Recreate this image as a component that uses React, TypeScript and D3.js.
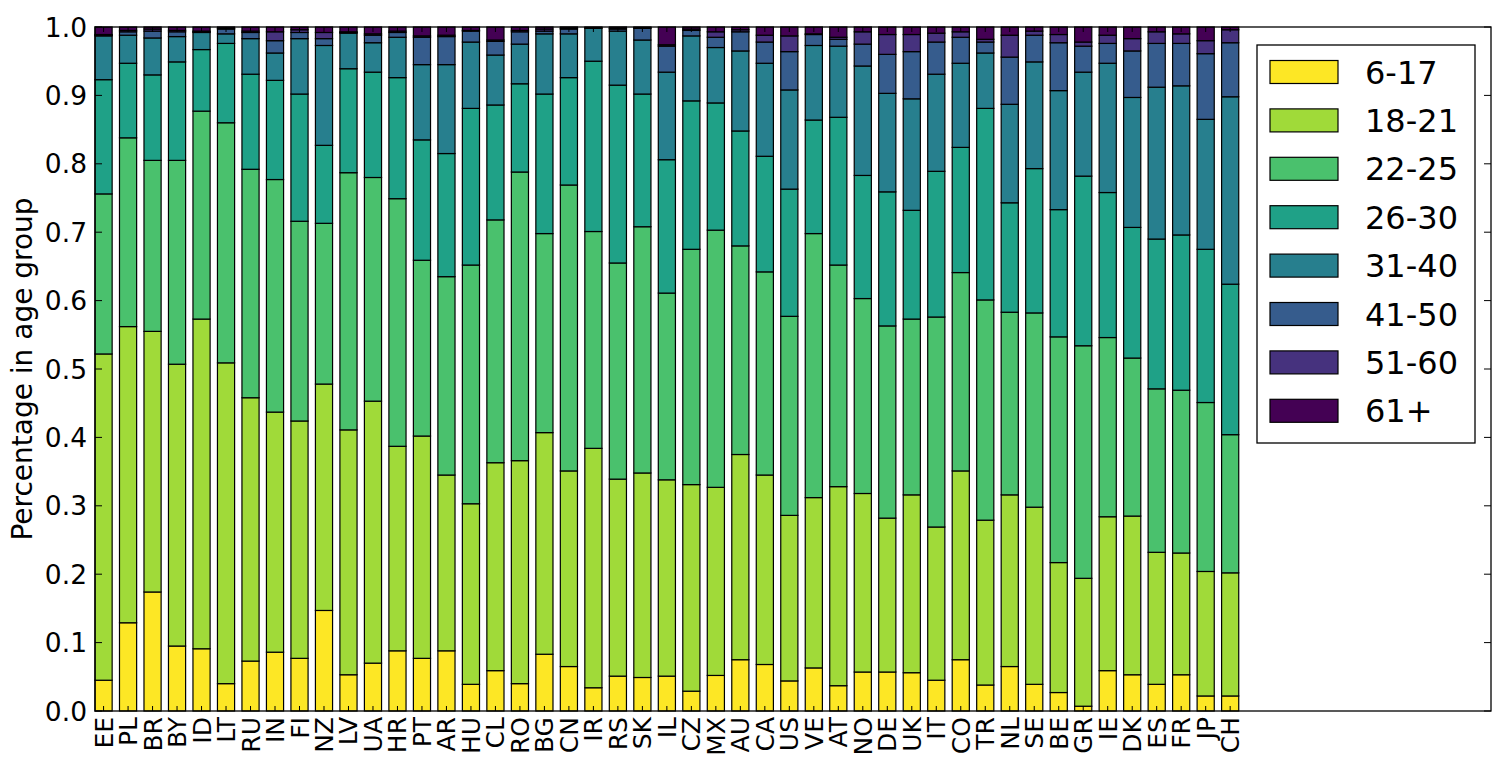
import React, { useEffect, useRef } from 'react';
import * as d3 from 'd3';

const countries = [
  'EE', 'PL', 'BR', 'BY', 'ID', 'LT', 'RU', 'IN', 'FI', 'NZ', 'LV', 'UA', 'HR', 'PT', 'AR', 'HU',
  'CL', 'RO', 'BG', 'CN', 'IR', 'RS', 'SK', 'IL', 'CZ', 'MX', 'AU', 'CA', 'US', 'VE', 'AT', 'NO',
  'DE', 'UK', 'IT', 'CO', 'TR', 'NL', 'SE', 'BE', 'GR', 'IE', 'DK', 'ES', 'FR', 'JP', 'CH',
];

const ageGroups = ['6-17', '18-21', '22-25', '26-30', '31-40', '41-50', '51-60', '61+'];

// share of each country in an age group, same order as countries
const age6to17 = [
  .045, .129, .174, .095, .091, .040, .073, .086, .077, .147, .053, .070, .088, .077, .088, .039,
  .059, .040, .083, .065, .034, .051, .049, .051, .029, .052, .075, .068, .044, .063, .037, .057,
  .057, .056, .045, .075, .038, .065, .039, .027, .007, .059, .053, .039, .053, .022, .022,
];
const age18to21 = [
  .477, .433, .381, .412, .482, .469, .385, .351, .347, .331, .358, .383, .299, .325, .257, .264,
  .304, .326, .324, .286, .350, .288, .299, .287, .302, .275, .300, .277, .242, .249, .291, .261,
  .225, .260, .224, .276, .241, .251, .259, .190, .187, .225, .232, .193, .178, .182, .180,
];
const age22to25 = [
  .234, .276, .250, .298, .304, .351, .334, .340, .292, .235, .376, .327, .362, .257, .290, .349,
  .355, .422, .291, .418, .317, .316, .360, .273, .344, .376, .305, .297, .291, .386, .324, .285,
  .281, .257, .307, .290, .322, .267, .284, .330, .340, .262, .231, .239, .238, .247, .202,
];
const age26to30 = [
  .167, .109, .125, .144, .090, .116, .139, .145, .186, .114, .152, .154, .177, .176, .180, .229,
  .168, .129, .204, .157, .249, .260, .194, .195, .217, .186, .168, .169, .186, .166, .216, .180,
  .196, .159, .213, .183, .280, .160, .211, .186, .248, .212, .191, .219, .227, .224, .220,
];
const age31to40 = [
  .064, .041, .054, .037, .025, .014, .052, .040, .081, .146, .052, .043, .059, .110, .130, .097,
  .073, .058, .088, .064, .048, .079, .079, .128, .095, .081, .117, .136, .145, .109, .104, .160,
  .144, .163, .142, .123, .081, .144, .156, .174, .152, .189, .190, .222, .218, .190, .274,
];
const age41to50 = [
  .001, .005, .010, .007, .001, .007, .009, .018, .009, .010, .001, .011, .007, .040, .041, .016,
  .020, .018, .004, .007, .001, .003, .017, .038, .008, .015, .028, .031, .056, .016, .010, .032,
  .057, .069, .047, .038, .016, .069, .039, .070, .038, .029, .068, .064, .062, .096, .079,
];
const age51to60 = [
  .001, .002, .003, .002, .001, .001, .002, .013, .004, .009, .001, .002, .002, .002, .002, .001,
  .002, .002, .003, .001, .000, .001, .001, .002, .002, .008, .003, .010, .023, .001, .003, .018,
  .029, .025, .013, .008, .004, .032, .006, .012, .006, .012, .018, .017, .014, .019, .019,
];
const age61plus = [
  .011, .005, .003, .005, .006, .002, .006, .007, .004, .008, .007, .010, .006, .013, .012, .005,
  .019, .005, .003, .002, .001, .002, .001, .026, .003, .007, .004, .012, .013, .010, .015, .007,
  .011, .011, .009, .007, .018, .012, .006, .011, .022, .012, .017, .007, .010, .020, .004,
];

const yTicks = [0, 0.1, 0.2, 0.3, 0.4, 0.5, 0.6, 0.7, 0.8, 0.9, 1.0];

const series = [age6to17, age18to21, age22to25, age26to30, age31to40, age41to50, age51to60, age61plus];

export default function App() {
  const svgRef = useRef<SVGSVGElement | null>(null);

  useEffect(() => {
    if (!svgRef.current) return;
    const svg = d3.select(svgRef.current);
    svg.selectAll('*').remove();

    const left = 95, right = 1491, top = 27, bottom = 711;
    const font = 'DejaVu Sans, sans-serif';
    const barWidth = 0.7;

    // matplotlib-style edge aligned bars, extra room on the right for the legend
    const x = d3.scaleLinear().domain([0, countries.length + 10]).range([left, right]);
    const y = d3.scaleLinear().domain([0, 1]).range([bottom, top]);

    const color = (i: number) => d3.interpolateViridis(1 - i / (ageGroups.length - 1));

    const rows = countries.map((c, i) => {
      const row: any = { country: c };
      ageGroups.forEach((g, k) => { row[g] = series[k][i]; });
      return row;
    });

    const stacked = d3.stack<any>().keys(ageGroups).offset(d3.stackOffsetExpand)(rows);

    const g = svg.append('g');

    stacked.forEach((layer, k) => {
      g.append('g')
        .selectAll('rect')
        .data(layer)
        .join('rect')
        .attr('x', (_d, i) => x(i))
        .attr('width', x(barWidth) - x(0))
        .attr('y', (d) => y(d[1]))
        .attr('height', (d) => y(d[0]) - y(d[1]))
        .attr('fill', color(k))
        .attr('stroke', '#000')
        .attr('stroke-width', 1.2);
    });

    // frame
    g.append('rect')
      .attr('x', left).attr('y', top)
      .attr('width', right - left).attr('height', bottom - top)
      .attr('fill', 'none').attr('stroke', '#000').attr('stroke-width', 1.3);

    // y ticks, inward on both sides
    yTicks.forEach((t) => {
      g.append('line').attr('x1', left).attr('x2', left + 7).attr('y1', y(t)).attr('y2', y(t))
        .attr('stroke', '#000').attr('stroke-width', 1);
      g.append('line').attr('x1', right - 7).attr('x2', right).attr('y1', y(t)).attr('y2', y(t))
        .attr('stroke', '#000').attr('stroke-width', 1);
      g.append('text')
        .attr('x', left - 8).attr('y', y(t)).attr('dy', '0.36em')
        .attr('text-anchor', 'end')
        .attr('font-family', font).attr('font-size', 26.5)
        .text(d3.format('.1f')(t));
    });

    // x ticks at bar centres
    countries.forEach((c, i) => {
      const cx = x(i + barWidth / 2);
      g.append('line').attr('x1', cx).attr('x2', cx).attr('y1', bottom).attr('y2', bottom - 5)
        .attr('stroke', '#000').attr('stroke-width', 1);
      g.append('line').attr('x1', cx).attr('x2', cx).attr('y1', top).attr('y2', top + 5)
        .attr('stroke', '#000').attr('stroke-width', 1);
      g.append('text')
        .attr('transform', `translate(${cx},${bottom + 6}) rotate(-90)`)
        .attr('dy', '0.36em')
        .attr('text-anchor', 'end')
        .attr('font-family', font).attr('font-size', 25)
        .text(c);
    });

    // y axis label
    g.append('text')
      .attr('transform', `translate(22,${(top + bottom) / 2}) rotate(-90)`)
      .attr('dy', '0.36em')
      .attr('text-anchor', 'middle')
      .attr('font-family', font).attr('font-size', 28)
      .text('Percentage in age group');

    // legend
    const lg = g.append('g');
    lg.append('rect')
      .attr('x', 1257).attr('y', 45).attr('width', 218).attr('height', 398)
      .attr('fill', '#fff').attr('stroke', '#000').attr('stroke-width', 1.3);
    ageGroups.forEach((name, k) => {
      const cy = 72 + k * 48.4;
      lg.append('rect')
        .attr('x', 1270).attr('y', cy - 11.5).attr('width', 68).attr('height', 23)
        .attr('fill', color(k)).attr('stroke', '#000').attr('stroke-width', 1.2);
      lg.append('text')
        .attr('x', 1365).attr('y', cy).attr('dy', '0.36em')
        .attr('font-family', font).attr('font-size', 32)
        .text(name);
    });
  }, []);

  return (
    <div style={{ position: 'absolute', left: 0, top: 0, background: '#fff' }}>
      <svg ref={svgRef} width={1500} height={767} style={{ display: 'block' }} />
    </div>
  );
}
